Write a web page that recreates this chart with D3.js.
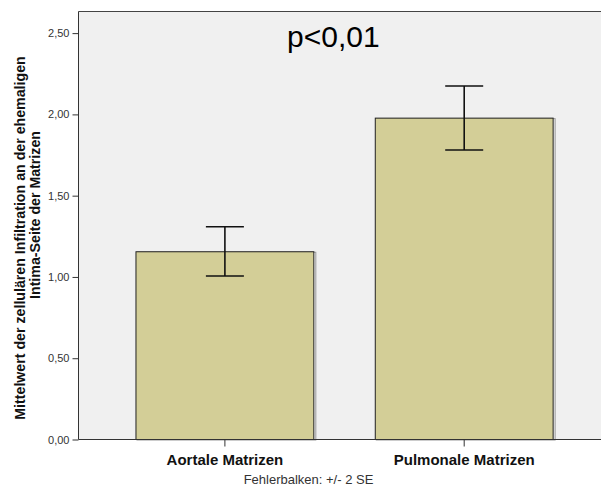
<!DOCTYPE html>
<html><head><meta charset="utf-8">
<script src="https://cdn.jsdelivr.net/npm/d3@7"></script>
<style>body{margin:0;background:#fff}svg{display:block;font-family:"Liberation Sans",Arial,sans-serif}</style>
</head><body><svg id="c" width="601" height="486"></svg>
<script>
const categories = ["Aortale Matrizen", "Pulmonale Matrizen"];
const means = [1.155, 1.977];
const lower = [1.006, 1.781];
const upper = [1.309, 2.175];
const yTicks = [0, 0.5, 1.0, 1.5, 2.0, 2.5];
const yTitle = ["Mittelwert der zellulären Infiltration an der ehemaligen", "Intima-Seite der Matrizen"];
const annotation = "p<0,01";
const footnote = "Fehlerbalken: +/- 2 SE";

const svg = d3.select("#c");
const L = 78.5, R = 601, T = 11.5, B = 439.5;
const y = d3.scaleLinear().domain([0, 2.633]).range([B, T]);
const x = d3.scaleBand().domain(categories).range([L, R]).paddingInner(0.2526).paddingOuter(0.218).align(0.546);

svg.append("rect").attr("x", L).attr("y", T).attr("width", R - L).attr("height", B - T).attr("fill", "#f0f0f0");
svg.append("line").attr("x1", L).attr("x2", R).attr("y1", T).attr("y2", T).attr("stroke", "#444").attr("stroke-width", 1);

const data = categories.map((c, i) => ({c, m: means[i], lo: lower[i], hi: upper[i]}));

svg.selectAll("rect.sh").data(data).join("rect").attr("class", "sh")
  .attr("x", d => x(d.c) + 1.5).attr("y", d => y(d.m) + 0.5)
  .attr("width", x.bandwidth()).attr("height", d => B - y(d.m))
  .attr("fill", "none").attr("stroke", "#999").attr("stroke-width", 1);
svg.selectAll("rect.bar").data(data).join("rect").attr("class", "bar")
  .attr("x", d => x(d.c) + 0.5).attr("y", d => y(d.m))
  .attr("width", x.bandwidth() - 1).attr("height", d => B - y(d.m))
  .attr("fill", "#d3ce97").attr("stroke", "#222").attr("stroke-width", 1);

const cx = d => x(d.c) + x.bandwidth() / 2;
const capW = 19;
const eg = svg.selectAll("g.err").data(data).join("g").attr("class", "err")
  .attr("stroke", "#111").attr("stroke-width", 1.6);
eg.append("line").attr("x1", cx).attr("x2", cx).attr("y1", d => y(d.hi)).attr("y2", d => y(d.lo));
eg.append("line").attr("x1", d => cx(d) - capW).attr("x2", d => cx(d) + capW).attr("y1", d => y(d.hi)).attr("y2", d => y(d.hi));
eg.append("line").attr("x1", d => cx(d) - capW).attr("x2", d => cx(d) + capW).attr("y1", d => y(d.lo)).attr("y2", d => y(d.lo));

const ya = svg.append("g").attr("transform", `translate(${L},0)`)
  .call(d3.axisLeft(y).tickValues(yTicks).tickSize(6).tickPadding(3).tickFormat(d => d3.format(".2f")(d).replace(".", ",")));
ya.select(".domain").attr("stroke", "#333").attr("d", `M0,${T}V${B}`);
ya.selectAll(".tick line").attr("stroke", "#333");
ya.selectAll(".tick text").attr("fill", "#333").style("font-size", "11px").style("font-family", "'Liberation Sans',Arial,sans-serif");

const xa = svg.append("g").attr("transform", `translate(0,${B})`)
  .call(d3.axisBottom(x).tickSize(7).tickPadding(8));
xa.select(".domain").attr("stroke", "#333").attr("d", `M${L},0H${R}`);
xa.selectAll(".tick line").attr("stroke", "#333");
xa.selectAll(".tick text").attr("fill", "#111").style("font-size", "15px").style("font-weight", "bold").style("font-family", "'Liberation Sans',Arial,sans-serif");

svg.append("text").attr("transform", `translate(25,238) rotate(-90)`)
  .attr("text-anchor", "middle").style("font-size", "14.2px").style("font-weight", "bold").attr("fill", "#111").text(yTitle[0]);
svg.append("text").attr("transform", `translate(40,215) rotate(-90)`)
  .attr("text-anchor", "middle").style("font-size", "14.2px").style("font-weight", "bold").attr("fill", "#111").text(yTitle[1]);

svg.append("text").attr("x", 287).attr("y", 47).style("font-size", "30px").attr("fill", "#000").text(annotation);
svg.append("text").attr("x", 308.5).attr("y", 484).attr("text-anchor", "middle").style("font-size", "13px").attr("fill", "#333").text(footnote);
</script></body></html>
